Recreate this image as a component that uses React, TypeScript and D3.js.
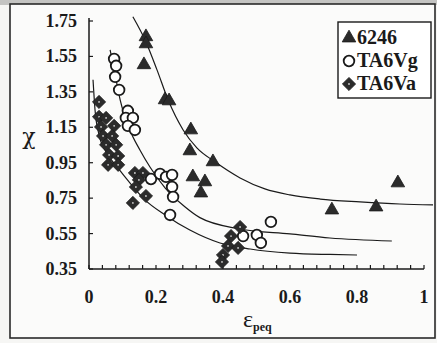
import React from "react";
import * as d3 from "d3";

// ---- data ----
const xTicks = [0, 0.2, 0.4, 0.6, 0.8, 1];
const xTickLabels = ["0", "0.2", "0.4", "0.6", "0.8", "1"];
const yTicks = [0.35, 0.55, 0.75, 0.95, 1.15, 1.35, 1.55, 1.75];
const yTickLabels = ["0.35", "0.55", "0.75", "0.95", "1.15", "1.35", "1.55", "1.75"];
const xMinorTicks = [0, 0.04, 0.08, 0.12, 0.16, 0.2, 0.24, 0.28, 0.32, 0.36, 0.4, 0.44, 0.48, 0.52, 0.56, 0.6, 0.64, 0.68, 0.72, 0.76, 0.8, 0.84, 0.88, 0.92, 0.96, 1];

const series6246: [number, number][] = [
  [0.17, 1.661], [0.17, 1.621], [0.164, 1.503], [0.227, 1.305], [0.239, 1.299],
  [0.304, 1.135], [0.301, 1.017], [0.37, 0.955], [0.31, 0.87], [0.346, 0.842],
  [0.334, 0.779], [0.725, 0.683], [0.857, 0.7], [0.922, 0.836],
];
const seriesTA6Vg: [number, number][] = [
  [0.075, 1.536], [0.081, 1.497], [0.078, 1.435], [0.09, 1.361], [0.116, 1.243],
  [0.11, 1.203], [0.131, 1.203], [0.116, 1.158], [0.137, 1.135], [0.185, 0.858],
  [0.212, 0.887], [0.23, 0.87], [0.248, 0.881], [0.248, 0.813], [0.251, 0.757],
  [0.242, 0.655], [0.46, 0.536], [0.501, 0.542], [0.513, 0.497], [0.543, 0.616],
];
const seriesTA6Va: [number, number][] = [
  [0.03, 1.293], [0.03, 1.209], [0.051, 1.203], [0.036, 1.152], [0.075, 1.158],
  [0.042, 1.101], [0.069, 1.101], [0.051, 1.051], [0.081, 1.051], [0.06, 0.994],
  [0.087, 0.988], [0.057, 0.938], [0.087, 0.938], [0.137, 0.892], [0.161, 0.892],
  [0.149, 0.853], [0.14, 0.813], [0.17, 0.762], [0.131, 0.723],
  [0.451, 0.587], [0.424, 0.536], [0.415, 0.48], [0.445, 0.469], [0.4, 0.429], [0.397, 0.39],
];
const fit6246: [number, number][] = [
  [0.131, 1.774], [0.17, 1.632], [0.203, 1.474], [0.236, 1.305], [0.281, 1.135],
  [0.322, 1.034], [0.376, 0.955], [0.451, 0.864], [0.525, 0.802], [0.6, 0.768],
  [0.69, 0.745], [0.809, 0.729], [0.928, 0.717], [1.027, 0.712],
];
const fitTA6Vg: [number, number][] = [
  [0.063, 1.587], [0.078, 1.446], [0.093, 1.305], [0.122, 1.135], [0.152, 1.022],
  [0.182, 0.926], [0.227, 0.808], [0.287, 0.7], [0.331, 0.64], [0.451, 0.576],
  [0.6, 0.548], [0.719, 0.525], [0.904, 0.508],
];
const fitTA6Va: [number, number][] = [
  [0.012, 1.418], [0.018, 1.248], [0.03, 1.107], [0.051, 1.011], [0.084, 0.926],
  [0.122, 0.836], [0.167, 0.74], [0.227, 0.655], [0.301, 0.57], [0.391, 0.497],
  [0.481, 0.463], [0.6, 0.44], [0.719, 0.432], [0.8, 0.429],
];
const legendLabels = ["6246", "TA6Vg", "TA6Va"];

// ---- layout ----
const W = 437;
const H = 343;
const x = d3.scaleLinear().domain([0, 1]).range([89, 424]);
const y = d3.scaleLinear().domain([0.35, 1.75]).range([269, 21]);
const ink = "#1a1a1a";
const fill = "#2b2b2b";
const serif = "Times New Roman, Liberation Serif, DejaVu Serif, serif";

const line = d3
  .line<[number, number]>()
  .x((d) => x(d[0]))
  .y((d) => y(d[1]))
  .curve(d3.curveMonotoneX);

const triPath = d3.symbol(d3.symbolTriangle, 80)()!;
const diamond = (s: number) => `M0,${-s}L${s},0L0,${s}L${-s},0Z`;

function Tri({ cx, cy }: { cx: number; cy: number }) {
  return <path d={triPath} transform={`translate(${cx},${cy})`} fill={fill} stroke={ink} strokeWidth={0.8} />;
}
function Circ({ cx, cy }: { cx: number; cy: number }) {
  return <circle cx={cx} cy={cy} r={5.3} fill="#fff" stroke={ink} strokeWidth={1.8} />;
}
function Dia({ cx, cy }: { cx: number; cy: number }) {
  return (
    <g transform={`translate(${cx},${cy})`}>
      <path d={diamond(6.6)} fill={fill} stroke={ink} strokeWidth={0.8} />
      <circle r={0.9} fill="#cfcfcf" />
    </g>
  );
}

export default function App() {
  return (
    <svg
      width={W}
      height={H}
      style={{ position: "fixed", left: 0, top: 0, background: "#f6f6f4" }}
    >
      <rect x={0} y={0} width={W} height={H} fill="#f6f6f4" />
      <rect x={0} y={0} width={W} height={5} fill="#c4c4c2" />
      <rect x={10} y={4} width={425} height={334} fill="#fbfbfa" stroke="#2a2a2a" strokeWidth={1.6} />

      {/* fitted curves */}
      <path d={line(fit6246)!} fill="none" stroke={ink} strokeWidth={1.2} />
      <path d={line(fitTA6Vg)!} fill="none" stroke={ink} strokeWidth={1.2} />
      <path d={line(fitTA6Va)!} fill="none" stroke={ink} strokeWidth={1.2} />

      {/* axes */}
      <line x1={x(0)} x2={x(0)} y1={18} y2={y(0.35)} stroke={ink} strokeWidth={1.5} />
      <line x1={x(0)} x2={x(1)} y1={y(0.35)} y2={y(0.35)} stroke={ink} strokeWidth={1.5} />
      {xMinorTicks.map((t) => (
        <line key={"xm" + t} x1={x(t)} x2={x(t)} y1={y(0.35)} y2={y(0.35) - 4} stroke={ink} strokeWidth={1.2} />
      ))}
      {yTicks.map((t) => (
        <line key={"yt" + t} x1={x(0)} x2={x(0) + 4} y1={y(t)} y2={y(t)} stroke={ink} strokeWidth={1.2} />
      ))}
      {xTicks.map((t, i) => (
        <text key={"xl" + t} x={x(t)} y={303} textAnchor="middle" fontFamily={serif} fontWeight="bold" fontSize={18} fill={ink}>
          {xTickLabels[i]}
        </text>
      ))}
      {yTicks.map((t, i) => (
        <text key={"yl" + t} x={77} y={y(t) + 6} textAnchor="end" fontFamily={serif} fontWeight="bold" fontSize={18} fill={ink}>
          {yTickLabels[i]}
        </text>
      ))}

      {/* axis titles */}
      <text x={29} y={144} textAnchor="middle" fontFamily="DejaVu Serif, serif" fontSize={22} fill={ink}>
        χ
      </text>
      <text x={243} y={327} fontFamily={serif} fontSize={24} fill={ink}>
        ε
        <tspan fontSize={12} fontWeight="bold" dy={4}>peq</tspan>
      </text>

      {/* markers */}
      {series6246.map((d, i) => (
        <Tri key={"t" + i} cx={x(d[0])} cy={y(d[1])} />
      ))}
      {seriesTA6Vg.map((d, i) => (
        <Circ key={"c" + i} cx={x(d[0])} cy={y(d[1])} />
      ))}
      {seriesTA6Va.map((d, i) => (
        <Dia key={"d" + i} cx={x(d[0])} cy={y(d[1])} />
      ))}

      {/* legend */}
      <rect x={338} y={22} width={93} height={76} fill="#fff" stroke={ink} strokeWidth={1.4} />
      <Tri cx={349} cy={38} />
      <Circ cx={349} cy={61} />
      <Dia cx={349} cy={84} />
      {legendLabels.map((l, i) => (
        <text key={l} x={357} y={44 + i * 23} fontFamily={serif} fontWeight="bold" fontSize={20} fill={ink}>
          {l}
        </text>
      ))}
    </svg>
  );
}
